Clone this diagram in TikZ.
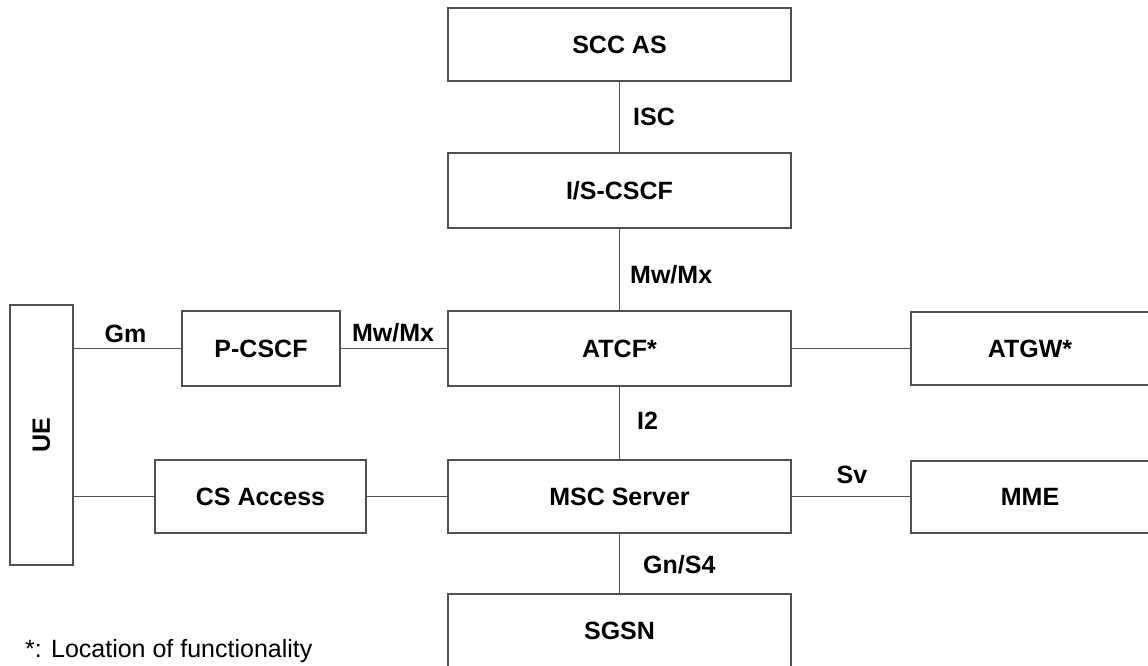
\documentclass[tikz,border=0pt]{standalone}
\usepackage{fontspec}
\setmainfont{Liberation Sans}
\definecolor{linec}{RGB}{80,80,80}
\begin{document}
\begin{tikzpicture}[x=1pt,y=-1pt,
  box/.style={draw=linec, line width=1.1pt, inner sep=0pt, outer sep=0pt,
    font=\fontsize{25}{30}\selectfont\bfseries, text=black},
  conn/.style={draw=linec, line width=1.1pt},
  lbl/.style={anchor=base west, inner sep=0pt, font=\fontsize{25}{30}\selectfont\bfseries},
  lblc/.style={anchor=base, inner sep=0pt, font=\fontsize{25}{30}\selectfont\bfseries}]
\useasboundingbox (0,0) rectangle (1148,666);
\clip (0,0) rectangle (1148,666);
% main column
\node[box, minimum width=343pt, minimum height=73pt] (scc) at (619.5,44.5) {SCC AS};
\node[box, minimum width=343pt, minimum height=75pt] (iscscf) at (619.5,190.5) {I/S-CSCF};
\node[box, minimum width=343pt, minimum height=75pt] (atcf) at (619.5,348.5) {ATCF*};
\node[box, minimum width=343pt, minimum height=73pt] (msc) at (619.5,496.5) {MSC Server};
\node[box, minimum width=343pt, minimum height=74pt] (sgsn) at (619.5,631) {SGSN};
% left
\node[box, minimum width=63pt, minimum height=260pt] (ue) at (41.5,435) {};
\node[font=\fontsize{25}{30}\selectfont\bfseries, rotate=90] (uetext) at (ue.center) {UE};
\node[box, minimum width=158pt, minimum height=75pt] (pcscf) at (261,348.5) {P-CSCF};
\node[box, minimum width=211pt, minimum height=73pt] (csa) at (260.5,496.5) {CS Access};
% right
\node[box, minimum width=238pt, minimum height=73pt] (atgw) at (1030,348.5) {ATGW*};
\node[box, minimum width=238pt, minimum height=72pt] (mme) at (1030,497) {MME};
% connectors
\draw[conn] (scc.south) -- (iscscf.north);
\draw[conn] (iscscf.south) -- (atcf.north);
\draw[conn] (atcf.south) -- (msc.north);
\draw[conn] (msc.south) -- (sgsn.north);
\draw[conn] (ue.east |- pcscf.west) -- (pcscf.west);
\draw[conn] (pcscf.east) -- (atcf.west);
\draw[conn] (atcf.east) -- (atgw.west |- atcf.east);
\draw[conn] (ue.east |- csa.west) -- (csa.west);
\draw[conn] (csa.east) -- (msc.west);
\draw[conn] (msc.east) -- (mme.west |- msc.east);
% interface labels
\node[lbl] (lisc) at (633,125) {ISC};
\node[lbl] (lmw1) at (630,283) {Mw/Mx};
\node[lbl] (li2) at (637,429) {I2};
\node[lbl] (lgn) at (643,573) {Gn/S4};
\node[lblc] (lgm) at (125.5,342) {Gm};
\node[lblc] (lmw2) at (393,341) {Mw/Mx};
\node[lblc] (lsv) at (852,483) {Sv};
% footnote
\node[anchor=base west, inner sep=0pt, font=\fontsize{25}{30}\selectfont] (note) at (25,657) {*: Location of functionality};
\end{tikzpicture}
\end{document}
